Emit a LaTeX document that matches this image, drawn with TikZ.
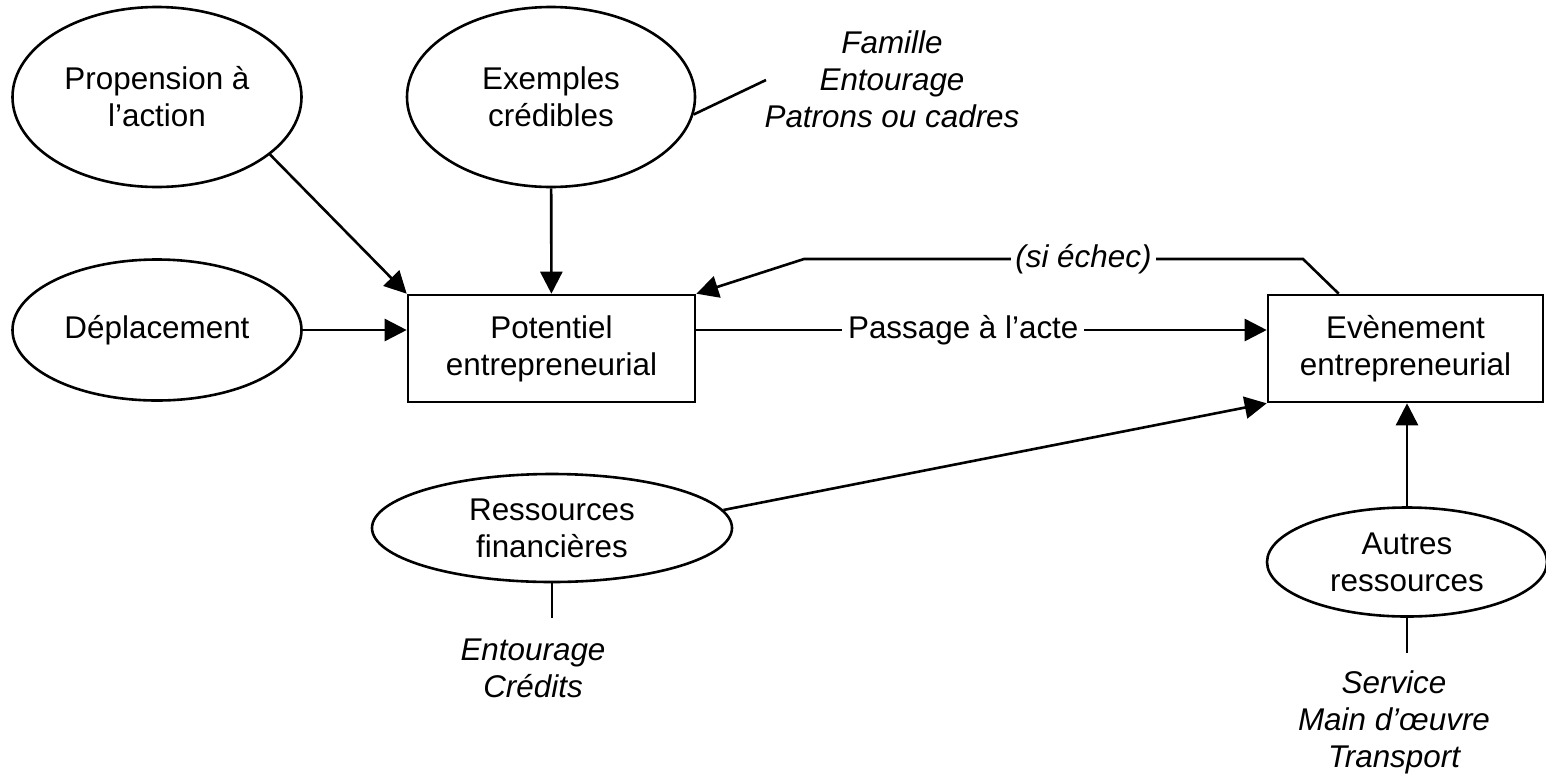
\documentclass[tikz,border=0pt]{standalone}
\usepackage{fontspec}
\setmainfont{Liberation Sans}
\usetikzlibrary{shapes.geometric,arrows.meta}
\newcommand{\txtsize}{\fontsize{15.7pt}{18.5pt}\selectfont}

\begin{document}
\begin{tikzpicture}[x=0.5pt,y=-0.5pt,
  bubble/.style={draw,ellipse,line width=1.3pt,inner sep=0pt,align=center,font=\txtsize},
  box/.style={draw,rectangle,line width=1.3pt,inner sep=0pt,align=center,font=\txtsize},
  note/.style={align=center,font=\txtsize\itshape},
  arr/.style={line width=1.3pt,-{Triangle[length=11pt,width=11pt]}},
  lnk/.style={line width=1.3pt}]

\useasboundingbox (0,0) rectangle (1546,777);

\node[bubble,minimum width=144.5pt,minimum height=90pt] (prop) at (157,97) {Propension à\\l’action};
\node[bubble,minimum width=144pt,minimum height=90pt] (exem) at (551,97) {Exemples\\crédibles};
\node[bubble,minimum width=144.5pt,minimum height=70.5pt] (depl) at (157,330) {Déplacement};
\node[box,minimum width=143.5pt,minimum height=53.5pt] (pot) at (551.5,348.5) {Potentiel\\entrepreneurial};
\node[box,minimum width=137.5pt,minimum height=53.5pt] (even) at (1405.5,348.5) {Evènement\\entrepreneurial};
\node[bubble,minimum width=180pt,minimum height=54pt] (ress) at (552,528) {Ressources\\financières};
\node[bubble,minimum width=140pt,minimum height=54.5pt] (autr) at (1407,562) {Autres\\ressources};

\node[note] (famille) at (892,79) {Famille\\Entourage\\Patrons ou cadres};
\node[note] (credits) at (533,668) {Entourage\\Crédits};
\node[note] (service) at (1394,722) {Service\\Main d’œuvre\\Transport};

\coordinate (famend) at (766,80);
\coordinate (resend) at (552,618);
\coordinate (autend) at (1407,653);
\coordinate (fb1) at (1303,259);
\coordinate (fb2) at (804,259);

\draw[arr] (prop.-27) -- (pot.north west);
\draw[arr] (exem) -- (pot);
\draw[arr] (depl) -- (depl -| pot.west);
\draw[lnk] (exem.-7) -- (famend);

\draw[arr] (pot.east |- depl.east) -- node[pos=0.468,fill=white,inner sep=3pt,font=\txtsize] (acte) {Passage à l’acte} (even.west |- depl.east);
\draw[arr] ([xshift=36pt]even.north west) -- (fb1) -- node[pos=0.44,fill=white,inner sep=2pt,font=\txtsize\itshape] (echec) {(si échec)} (fb2) -- (pot.north east);

\draw[arr] (ress.6) -- (even.south west);
\draw[arr] (autr) -- (autr |- even.south);
\draw[lnk] (ress.south) -- (resend);
\draw[lnk] (autr.south) -- (autend);
\end{tikzpicture}
\end{document}
